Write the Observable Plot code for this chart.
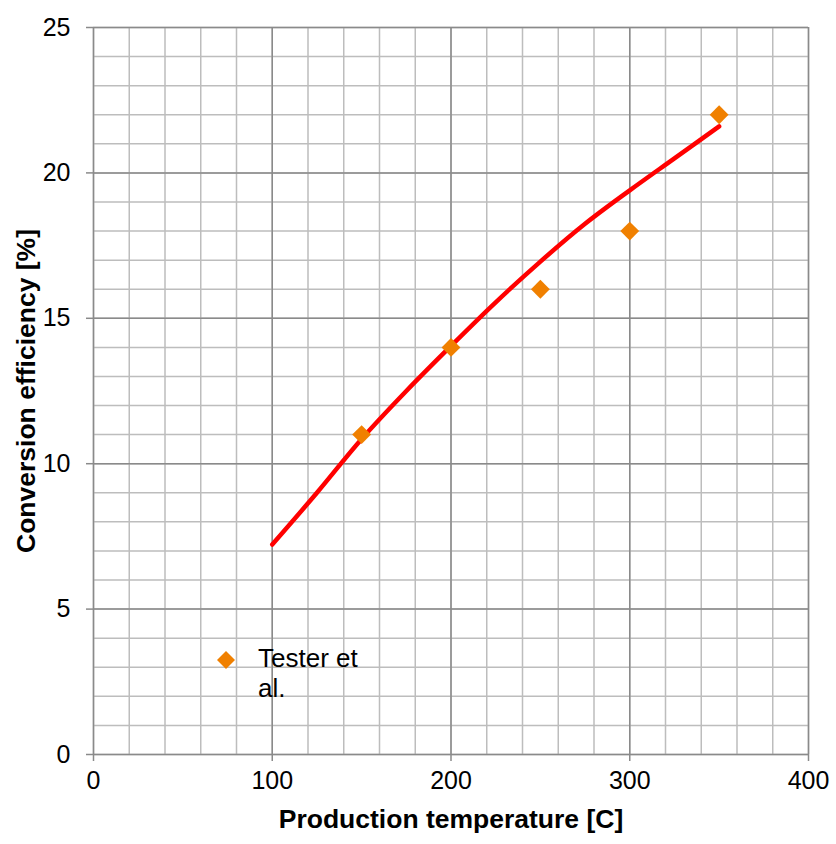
<!DOCTYPE html>
<html>
<head>
<meta charset="utf-8">
<script src="https://cdn.jsdelivr.net/npm/d3@7"></script>
<script src="https://cdn.jsdelivr.net/npm/@observablehq/plot@0.6"></script>
<style>
  html, body { margin: 0; padding: 0; background: #fff; }
  #wrap { position: relative; width: 836px; height: 844px; }
  svg [aria-label="x-axis tick label"] text, svg [aria-label="y-axis tick label"] text { font-size: 25px; }
  svg [aria-label="x-axis label"] text, svg [aria-label="y-axis label"] text { font-weight: bold; font-size: 26.5px; }
  #legend { position: absolute; left: 210px; top: 643px; font-family: "Liberation Sans", Arial, sans-serif; font-size: 26px; color: #000; line-height: 30px; }
</style>
</head>
<body>
<div id="wrap"></div>
<script>
// Model curve
const curveTemp = [100, 125, 150, 175, 200, 225, 250, 275, 300, 325, 350];
const curveEff  = [7.22, 9.0, 10.85, 12.5, 14.05, 15.55, 16.95, 18.25, 19.4, 20.5, 21.6];
// Tester et al. points
const pointTemp = [150, 200, 250, 300, 350];
const pointEff  = [11, 14, 16, 18, 22];
// Axis ticks
const xTicks = [0, 100, 200, 300, 400];
const yTicks = [0, 5, 10, 15, 20, 25];
const xMinor = d3.range(0, 401, 20);
const yMinor = d3.range(0, 26, 1);
const seriesName = "Tester et al.";

const curve = curveTemp.map((t, i) => ({t, e: curveEff[i]}));
const pts = pointTemp.map((t, i) => ({t, e: pointEff[i]}));

const chart = Plot.plot({
  width: 836,
  height: 844,
  marginLeft: 93,
  marginRight: 28,
  marginTop: 27,
  marginBottom: 90,
  style: { fontFamily: "Liberation Sans, Arial, sans-serif", fontSize: "25px", color: "#000", background: "#fff" },
  x: { domain: [0, 400] },
  y: { domain: [0, 25] },
  marks: [
    Plot.ruleX(xMinor, { stroke: "#bdbdbd", strokeWidth: 1.5 }),
    Plot.ruleY(yMinor, { stroke: "#bdbdbd", strokeWidth: 1.5 }),
    Plot.ruleX(xTicks, { stroke: "#8a8a8a", strokeWidth: 1.5 }),
    Plot.ruleY(yTicks, { stroke: "#8a8a8a", strokeWidth: 1.5 }),
    Plot.axisX({ ticks: xTicks, tickSize: 7, tickPadding: 10, stroke: "#8a8a8a", strokeWidth: 1.5,
      label: "Production temperature [C]", labelAnchor: "center", labelArrow: "none", labelOffset: 73 }),
    Plot.axisY({ ticks: yTicks, tickSize: 7, tickPadding: 16, stroke: "#8a8a8a", strokeWidth: 1.5,
      label: "Conversion efficiency [%]", labelAnchor: "center", labelArrow: "none", labelOffset: 77 }),
    Plot.line(curve, { x: "t", y: "e", stroke: "#ff0000", strokeWidth: 4.5, curve: "catmull-rom" }),
    Plot.dot(pts, { x: "t", y: "e", symbol: "diamond2", r: 8.5, fill: "#f08000", stroke: "none" })
  ]
});

const wrap = document.getElementById("wrap");
wrap.appendChild(chart);

const legend = document.createElement("div");
legend.id = "legend";
legend.innerHTML = `<div style="display:flex;align-items:flex-start;">
  <svg width="34" height="36"><path d="M16,8 L25,17 L16,26 L7,17 Z" fill="#f08000"/></svg>
  <div style="width:120px;margin-left:14px;">${seriesName}</div></div>`;
wrap.appendChild(legend);
</script>
</body>
</html>
